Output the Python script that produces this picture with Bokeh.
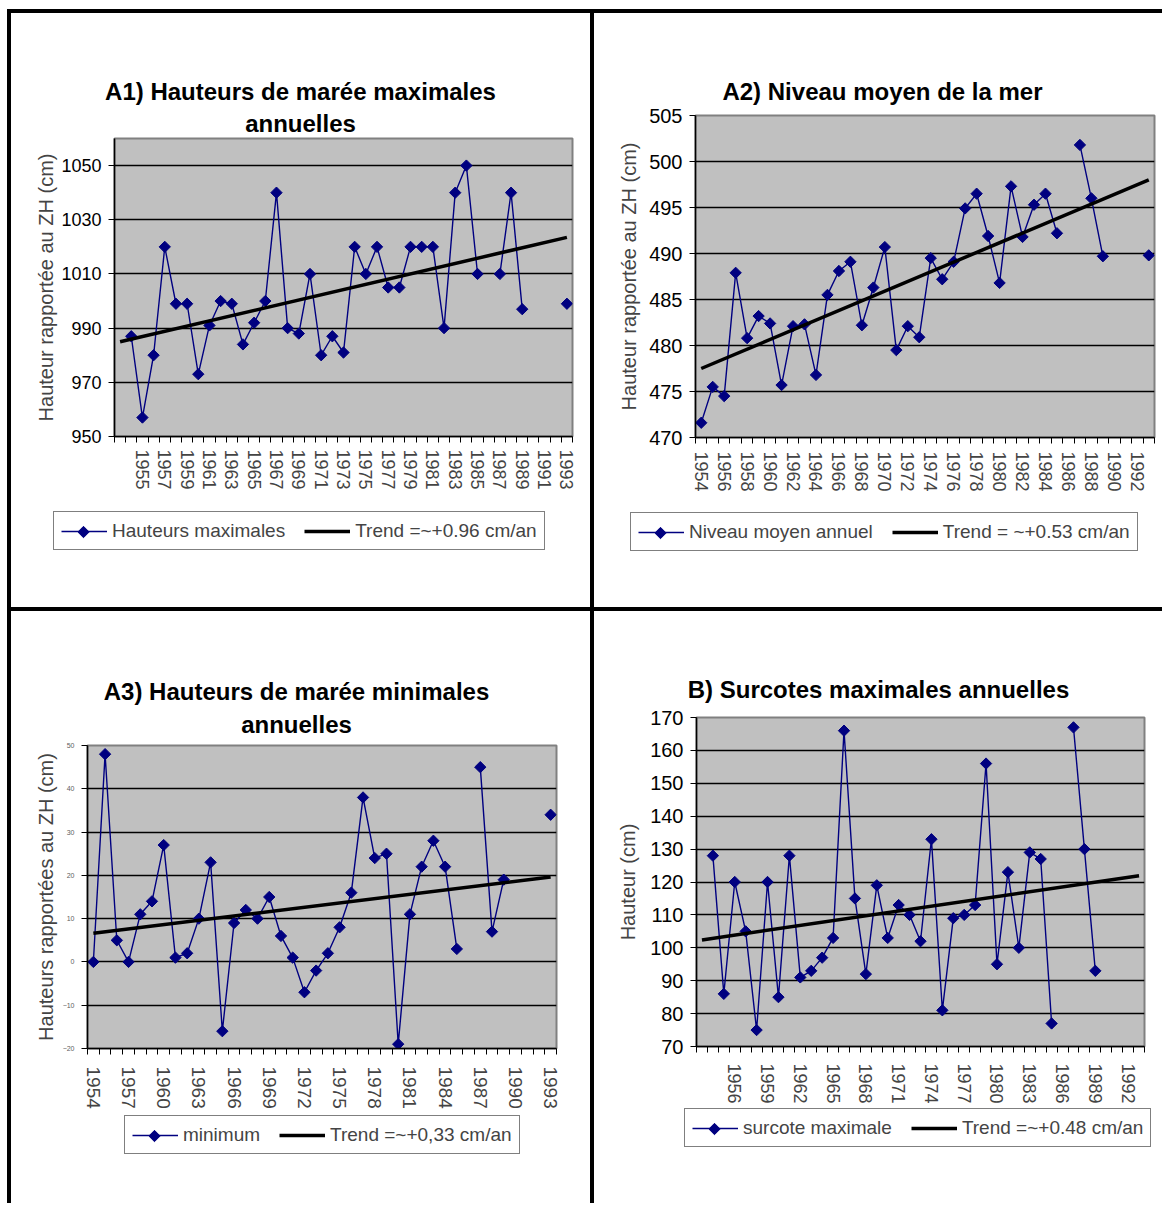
import math
from bokeh.plotting import figure
from bokeh.models import (Range1d, FixedTicker, Legend, LegendItem,
                          ColumnDataSource, Div)
from bokeh.layouts import row, column
from bokeh.core.properties import value
from bokeh.embed import file_html
from bokeh.resources import INLINE

NAN = float("nan")

# ---------------- data ----------------
years = list(range(1954, 1994))

# A1) annual maximum tide heights (cm, ref. ZH)
a1_categories = [""] + [str(y) for y in years]
a1_values = [987, 957, 980, 1020, 999, 999, 973, 991, 1000, 999,
             984, 992, 1000, 1040, 990, 988, 1010, 980, 987, 981,
             1020, 1010, 1020, 1005, 1005, 1020, 1020, 1020, 990, 1040,
             1050, 1010, NAN, 1010, 1040, 997, NAN, NAN, NAN, 999]
a1_trend = [985.0, 1023.5]
a1_yticks = [950, 970, 990, 1010, 1030, 1050]

# A2) mean sea level
a2_categories = [str(y) for y in years]
a2_values = [471.6, 475.5, 474.5, 487.9, 480.8, 483.2, 482.4, 475.7, 482.1, 482.3,
             476.8, 485.5, 488.1, 489.1, 482.2, 486.3, 490.7, 479.5, 482.1, 480.9,
             489.5, 487.2, 489.1, 494.9, 496.5, 491.9, 486.8, 497.3, 491.8, 495.3,
             496.5, 492.2, NAN, 501.8, 496.0, 489.7, NAN, NAN, NAN, 489.8]
a2_trend = [477.5, 498.0]
a2_yticks = [470, 475, 480, 485, 490, 495, 500, 505]

# A3) annual minimum tide heights
a3_categories = [str(y) for y in years]
a3_values = [0, 48, 5, 0, 11, 14, 27, 1, 2, 10,
             23, -16, 9, 12, 10, 15, 6, 1, -7, -2,
             2, 8, 16, 38, 24, 25, -19, 11, 22, 28,
             22, 3, NAN, 45, 7, 19, NAN, NAN, NAN, 34]
a3_trend = [6.6, 19.6]
a3_yticks = [-20, -10, 0, 10, 20, 30, 40, 50]

# B) annual maximum surges
b_categories = [""] + [str(y) for y in years]
b_values = [128, 86, 120, 105, 75, 120, 85, 128, 91, 93,
            97, 103, 166, 115, 92, 119, 103, 113, 110, 102,
            133, 81, 109, 110, 113, 156, 95, 123, 100, 129,
            127, 77, NAN, 167, 130, 93, NAN, NAN, NAN, NAN]
b_trend = [102.4, 121.9]
b_yticks = [70, 80, 90, 100, 110, 120, 130, 140, 150, 160, 170]

FONT = "Liberation Sans"
NAVY = "#000080"
GRAY = "#C0C0C0"

LEG_PAD = 7
LEG_GLYPH_W = 46
LEG_ITEM_H = 23


def blank_fig(w, h):
    f = figure(width=w, height=h, toolbar_location=None, output_backend="svg",
               x_range=Range1d(0, w), y_range=Range1d(0, h), min_border=0,
               x_axis_location=None, y_axis_location=None)
    f.grid.visible = False
    f.outline_line_color = None
    f.background_fill_color = "white"
    f.border_fill_color = "white"
    return f


def add_series(p, xs, vals):
    src = ColumnDataSource(dict(x=xs, y=vals))
    ln = p.line("x", "y", source=src, line_color=NAVY, line_width=1.4)
    sc = p.scatter("x", "y", source=src, marker="square", angle=math.pi / 4,
                   size=8, fill_color=NAVY, line_color=NAVY)
    return ln, sc


def make_cell(cats, label_step, vals, trend, yticks, y_end, cell, frame,
              top_pad, titles, ylabel, legend_labels, legend_box,
              ytick_size="18px", xtick_size="18px", ytick_color="black",
              ylabel_standoff=6, ylabel_size="20px", xlabel_standoff=10):
    cx, cy, cw, ch = cell
    fl, ft, fr, fb = frame
    lx0, ly0, lx1, ly1 = legend_box
    n = len(cats)

    # ---- title strip ----
    t_h = ft - cy - top_pad
    tf = blank_fig(cw, t_h)
    tf.text(x=[tx - cx for _, tx, _ in titles], y=[cy + t_h - ty for _, _, ty in titles],
            text=[t for t, _, _ in titles], text_align="center", text_baseline="middle",
            text_font=value(FONT), text_font_size="24px", text_font_style="bold",
            text_color="black")

    # ---- chart ----
    c_top = cy + t_h
    c_bot = ly0 - 4
    p = figure(width=cw, height=c_bot - c_top, toolbar_location=None,
               output_backend="svg",
               x_range=Range1d(0.5, n + 0.5), y_range=Range1d(yticks[0], y_end),
               min_border_left=fl - cx, min_border_right=cx + cw - fr,
               min_border_top=top_pad, min_border_bottom=c_bot - fb)
    p.background_fill_color = GRAY
    p.border_fill_color = "white"
    p.outline_line_color = "#808080"
    p.outline_line_width = 2

    xs = [cats.index(str(y)) + 1 for y in years]
    add_series(p, xs, vals)
    p.line([1, n], trend, line_color="black", line_width=3.5)

    label_pos = [k for k in range(1, n + 1, label_step)]
    p.xaxis.ticker = FixedTicker(ticks=label_pos,
                                 minor_ticks=[k + 0.5 for k in range(0, n + 1)])
    p.xaxis.major_label_overrides = {k: cats[k - 1] for k in label_pos}
    p.xaxis.major_label_orientation = "vertical"
    p.xaxis.major_tick_out = 0
    p.xaxis.major_tick_in = 0
    p.xaxis.minor_tick_out = 6
    p.xaxis.minor_tick_in = 0
    p.xaxis.minor_tick_line_color = "black"
    p.xaxis.major_label_standoff = xlabel_standoff
    p.xaxis.major_label_text_font_size = xtick_size
    p.xgrid.visible = False

    p.yaxis.ticker = FixedTicker(ticks=yticks)
    p.yaxis.major_tick_out = 6
    p.yaxis.major_tick_in = 0
    p.yaxis.minor_tick_line_color = None
    p.yaxis.major_label_standoff = 7
    p.yaxis.major_label_text_font_size = ytick_size
    p.yaxis.major_label_text_color = ytick_color
    p.yaxis.axis_label = ylabel
    p.yaxis.axis_label_text_font_style = "normal"
    p.yaxis.axis_label_text_font_size = ylabel_size
    p.yaxis.axis_label_standoff = ylabel_standoff
    p.ygrid.ticker = FixedTicker(ticks=[t for t in yticks if t < y_end])
    p.ygrid.grid_line_color = "black"
    p.ygrid.grid_line_width = 1.4

    for ax in (p.xaxis, p.yaxis):
        ax.axis_line_color = "black"
        ax.axis_line_width = 1.5
        ax.major_tick_line_color = "black"
        ax.major_label_text_font = FONT
        ax.axis_label_text_font = FONT

    # ---- legend strip ----
    l_h = cy + ch - c_bot
    lf = blank_fig(cw, l_h)
    leg_left = lx0 - cx
    leg_bottom = cy + ch - ly1
    # the diamond symbol of the series sits under the (transparent) legend box
    lf.scatter(x=[leg_left + LEG_PAD + LEG_GLYPH_W / 2],
               y=[leg_bottom + LEG_PAD + LEG_ITEM_H / 2],
               marker="square", angle=math.pi / 4, size=8,
               fill_color=NAVY, line_color=NAVY)
    ln = lf.line(x=[-100, -99], y=[-100, -100], line_color=NAVY, line_width=1.4)
    tr = lf.line(x=[-100, -99], y=[-100, -100], line_color="black", line_width=3.5)
    leg = Legend(items=[LegendItem(label=legend_labels[0], renderers=[ln]),
                        LegendItem(label=legend_labels[1], renderers=[tr])],
                 location=(leg_left, leg_bottom), orientation="horizontal",
                 border_line_color="black", border_line_width=1.5,
                 background_fill_alpha=0,
                 label_text_font=FONT, label_text_font_size="19px",
                 label_height=LEG_ITEM_H,
                 glyph_width=LEG_GLYPH_W, glyph_height=20, label_standoff=5,
                 spacing=19, padding=LEG_PAD, margin=0)
    lf.add_layout(leg, "center")

    return column(row(tf, spacing=0), row(p, spacing=0), row(lf, spacing=0), spacing=0)


def block(w, h, color):
    return Div(text="", width=w, height=h, margin=0,
               styles={"background-color": color})


A1 = make_cell(a1_categories, 2, a1_values, a1_trend, a1_yticks, 1060,
               cell=(11, 13, 579, 594), frame=(114, 138, 572, 436), top_pad=2,
               titles=[("A1) Hauteurs de marée maximales", 300, 91), ("annuelles", 300, 123)],
               ylabel="Hauteur rapportée au ZH (cm)",
               legend_labels=["Hauteurs maximales", "Trend =~+0.96 cm/an"],
               legend_box=(53, 514, 545, 550), ytick_size="18px", ylabel_standoff=1,
               xlabel_standoff=7)

A2 = make_cell(a2_categories, 2, a2_values, a2_trend, a2_yticks, 505,
               cell=(594, 13, 568, 594), frame=(695, 115, 1154, 437), top_pad=10,
               titles=[("A2) Niveau moyen de la mer", 882, 91)],
               ylabel="Hauteur rapportée au ZH (cm)",
               legend_labels=["Niveau moyen annuel", "Trend = ~+0.53 cm/an"],
               legend_box=(630, 514, 1135, 551), ytick_size="20px", ylabel_standoff=6,
               xlabel_standoff=8)

A3 = make_cell(a3_categories, 3, a3_values, a3_trend, a3_yticks, 50,
               cell=(11, 611, 579, 592), frame=(87, 745, 556, 1048), top_pad=6,
               titles=[("A3) Hauteurs de marée minimales", 296, 691), ("annuelles", 296, 724)],
               ylabel="Hauteurs rapportées au ZH (cm)",
               legend_labels=["minimum", "Trend =~+0,33 cm/an"],
               legend_box=(124, 1118, 518, 1154), ytick_size="7px", ytick_color="#606060",
               ylabel_standoff=3, xtick_size="19px", xlabel_standoff=12)

B = make_cell(b_categories, 3, b_values, b_trend, b_yticks, 170,
              cell=(594, 611, 568, 592), frame=(696, 717, 1144, 1050), top_pad=10,
              titles=[("B) Surcotes maximales annuelles", 878, 689)],
              ylabel="Hauteur (cm)",
              legend_labels=["surcote maximale", "Trend =~+0.48 cm/an"],
              legend_box=(684, 1110, 1153, 1147), ytick_size="20px", ylabel_standoff=8,
              xlabel_standoff=11)

layout = column(
    block(1162, 9, "white"),
    row(block(7, 4, "white"), block(1155, 4, "black"), spacing=0),
    row(block(7, 594, "white"), block(4, 594, "black"), A1,
        block(4, 594, "black"), A2, spacing=0),
    row(block(7, 4, "white"), block(1155, 4, "black"), spacing=0),
    row(block(7, 592, "white"), block(4, 592, "black"), A3,
        block(4, 592, "black"), B, spacing=0),
    spacing=0,
)

open("out.html", "w").write(file_html(layout, INLINE))
